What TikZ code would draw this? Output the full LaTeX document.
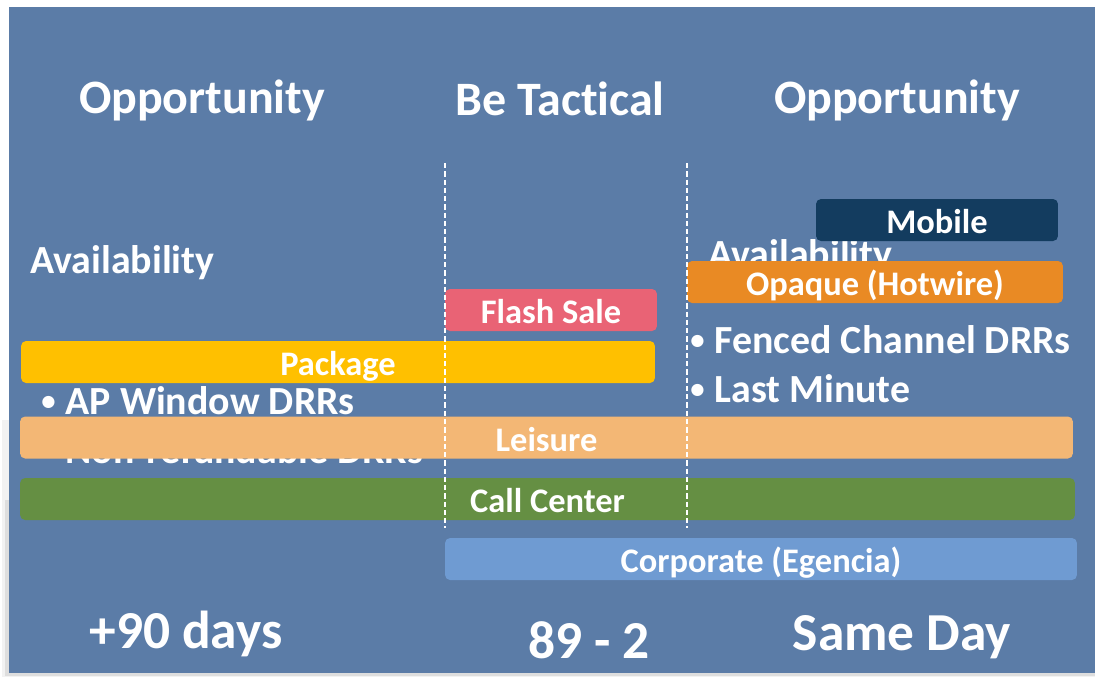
\documentclass[tikz,border=0pt]{standalone}
\usepackage{fontspec}
\setmainfont{Carlito}[Ligatures=NoCommon]
\usetikzlibrary{positioning}

\definecolor{slideblue}{RGB}{91,124,167}
\definecolor{mobileblue}{RGB}{19,60,95}
\definecolor{opaqueorange}{RGB}{233,138,36}
\definecolor{flashred}{RGB}{233,99,117}
\definecolor{packageyellow}{RGB}{255,192,0}
\definecolor{leisuretan}{RGB}{243,183,117}
\definecolor{callgreen}{RGB}{101,143,67}
\definecolor{corpblue}{RGB}{111,155,210}

\newcommand\dotitem{\raisebox{0.08em}{\scalebox{0.72}{•}}\hspace{0.25em}}

\tikzset{
  heading/.style={text=white, font=\fontsize{27.3}{30}\selectfont\bfseries, anchor=base, inner sep=0pt},
  sidetext/.style={text=white, font=\fontsize{22.7}{26}\selectfont\bfseries, anchor=base west, inner sep=0pt},
  bar/.style={rounded corners=0.1cm, minimum height=0.84cm, inner sep=0pt, text height=19.6pt, text depth=3.9pt, text=white, font=\fontsize{19.6}{22}\selectfont\bfseries},
  dayslabel/.style={text=white, font=\fontsize{30.4}{33}\selectfont\bfseries, anchor=base, inner sep=0pt},
  divider/.style={white, line width=1.1pt, dash pattern=on 3pt off 1.7pt}
}

\begin{document}
\begin{tikzpicture}[x=0.02cm,y=-0.02cm]
  %%%%% START %%%%%
  \useasboundingbox (0,0) rectangle (1095,677);
  \fill[white] (0,0) rectangle (1095,677);
  \fill[black!5] (2,420) rectangle (1095,677);
  \fill[black!13] (5,500) rectangle (1095,676);
  \fill[slideblue] (9,7) rectangle (1095,673);

  % column headings
  \node[heading] (oppleft) at (202,113) {Opportunity};
  \node[heading] (tactical) at (560,115) {Be Tactical};
  \node[heading] (oppright) at (897,113) {Opportunity};

  % text partly hidden by the bars
  \node[sidetext] (availleft) at (30,273) {Availability};
  \node[sidetext] (apwindow) at (41,414) {\dotitem AP Window DRRs};
  \node[sidetext] (nonref) at (41,463) {\dotitem Non-refundable DRRs};
  \node[sidetext] (availright) at (708,267) {Availability};
  \node[sidetext] (fenced) at (690,353) {\dotitem Fenced Channel DRRs};
  \node[sidetext] (lastmin) at (690,402) {\dotitem Last Minute};

  % channel bars
  \node[bar, fill=mobileblue, minimum width=4.84cm] (mobile) at (937,220) {Mobile};
  \node[bar, fill=opaqueorange, minimum width=7.52cm] (opaque) at (875,282) {Opaque (Hotwire)};
  \node[bar, fill=flashred, minimum width=4.24cm] (flash) at (551,310) {Flash Sale};
  \node[bar, fill=packageyellow, minimum width=12.68cm] (package) at (338,362) {Package};
  \node[bar, fill=leisuretan, minimum width=21.06cm] (leisure) at (546.5,437.5) {Leisure};
  \node[bar, fill=callgreen, minimum width=21.1cm] (callcenter) at (547.5,499) {Call Center};
  \node[bar, fill=corpblue, minimum width=12.64cm] (corporate) at (761,559) {Corporate (Egencia)};

  % dividers
  \coordinate (divAtop) at (445,163);
  \coordinate (divAbot) at (445,528);
  \coordinate (divBtop) at (687,163);
  \coordinate (divBbot) at (687,528);
  \draw[divider] (divAtop) -- (divAbot);
  \draw[divider] (divBtop) -- (divBbot);

  % time labels
  \node[dayslabel] (plus90) at (186,648) {+90 days};
  \node[dayslabel] (mid) at (589,658) {89 - 2};
  \node[dayslabel] (sameday) at (902,650) {Same Day};
  %%%%% END %%%%%
\end{tikzpicture}
\end{document}
